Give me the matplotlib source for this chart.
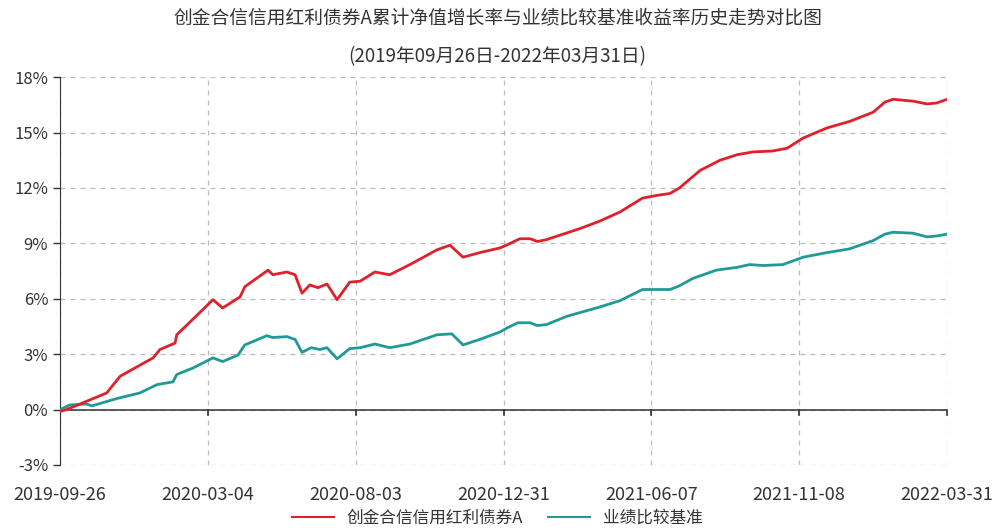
import matplotlib
matplotlib.use('Agg')
import matplotlib.pyplot as plt
from matplotlib.ticker import FuncFormatter

plt.rcParams['font.family'] = ['Noto Sans CJK SC', 'DejaVu Sans']

# ------------------------------------------------------------------
# Daten (x = Handelstag-Index 0..600, y in %)
# ------------------------------------------------------------------
fonds_x = [0, 4.5, 18, 31.6, 40.6, 54, 63, 67.6, 77.8, 79, 90, 103.5, 110, 121.8, 125,
           140.7, 144, 153.5, 159, 163.7, 169, 174.5, 180.6, 187.4, 196, 203, 213, 223,
           236.7, 255, 263.8, 272.6, 284, 297.6, 302, 311, 318, 323, 329, 351.7, 365,
           378.8, 394, 404, 412.6, 419, 433, 446.4, 458, 468.7, 482, 491.8, 502.6, 518.8,
           534, 550, 558, 563.5, 577, 586.5, 593, 600]
fonds_y = [-0.1, 0.0, 0.45, 0.9, 1.8, 2.4, 2.8, 3.25, 3.6, 4.05, 4.9, 5.95, 5.5, 6.1, 6.65,
           7.55, 7.3, 7.45, 7.3, 6.3, 6.75, 6.6, 6.8, 5.95, 6.9, 6.95, 7.45, 7.3,
           7.85, 8.65, 8.9, 8.25, 8.5, 8.75, 8.9, 9.25, 9.25, 9.1, 9.2, 9.8, 10.2,
           10.7, 11.45, 11.6, 11.7, 12.0, 12.95, 13.5, 13.8, 13.95, 14.0, 14.15, 14.7, 15.25,
           15.6, 16.1, 16.65, 16.8, 16.7, 16.55, 16.6, 16.8]

basis_x = [0, 6.7, 18, 21.6, 38.6, 54, 65.6, 76.4, 79, 90, 103.5, 110, 120.4, 125, 139.9,
           144, 153.5, 159, 163.7, 170, 175.8, 180.6, 187.4, 196, 203, 213, 223, 236.7,
           255, 265, 272.6, 284, 297.6, 302, 309.6, 318, 322.7, 329, 342.8, 365, 378.8,
           394, 404, 412.6, 419, 428, 444, 458, 466.5, 475.5, 489, 502.6, 518.8, 534, 550,
           558, 563.5, 577, 586.5, 593, 600]
basis_y = [0.0, 0.25, 0.3, 0.2, 0.6, 0.9, 1.35, 1.5, 1.9, 2.25, 2.8, 2.6, 2.95, 3.5, 4.0,
           3.9, 3.95, 3.8, 3.1, 3.35, 3.25, 3.35, 2.75, 3.3, 3.35, 3.55, 3.35, 3.55,
           4.05, 4.1, 3.5, 3.8, 4.2, 4.4, 4.7, 4.7, 4.55, 4.6, 5.05, 5.55, 5.9,
           6.5, 6.5, 6.5, 6.7, 7.1, 7.55, 7.7, 7.85, 7.8, 7.85, 8.25, 8.5, 8.7, 9.15,
           9.5, 9.6, 9.55, 9.35, 9.4, 9.5]

x_ticks = [0, 100, 200, 300, 400, 500, 600]
x_labels = ['2019-09-26', '2020-03-04', '2020-08-03', '2020-12-31',
            '2021-06-07', '2021-11-08', '2022-03-31']
y_ticks = [-3, 0, 3, 6, 9, 12, 15, 18]

fonds_name = '创金合信信用红利债券A'
basis_name = '业绩比较基准'
titel = '创金合信信用红利债券A累计净值增长率与业绩比较基准收益率历史走势对比图'
untertitel = '(2019年09月26日-2022年03月31日)'

# ------------------------------------------------------------------
# Plot
# ------------------------------------------------------------------
fig = plt.figure(figsize=(9.95, 5.32), dpi=100)
ax = fig.add_axes([0.0603, 0.126, 0.8915, 0.729])
ax.set_axisbelow(True)

ax.plot(fonds_x, fonds_y, color='#e0202a', linewidth=2, label=fonds_name, zorder=4)
ax.plot(basis_x, basis_y, color='#1f9a94', linewidth=2, label=basis_name, zorder=3)

ax.set_xlim(0, 600)
ax.set_ylim(-3, 18)
ax.set_xticks(x_ticks)
ax.set_xticklabels(x_labels, fontsize=13, color='#333333')
ax.set_yticks(y_ticks)
ax.yaxis.set_major_formatter(FuncFormatter(lambda v, p: f'{v:.0f}%'))
ax.tick_params(axis='y', labelsize=12, colors='#333333', length=5, width=1)
ax.tick_params(axis='x', length=0, pad=15)

ax.grid(True, linestyle=(0, (4, 4)), color='#bbbbbb', linewidth=0.9, zorder=0)
for s in ['top', 'right', 'bottom']:
    ax.spines[s].set_visible(False)
ax.spines['left'].set_color('#333333')
ax.axhline(0, color='#333333', linewidth=1.1, zorder=2)
for xt in x_ticks[1:]:
    ax.plot([xt, xt], [0, -0.3], color='#333333', linewidth=1.2, clip_on=False, zorder=2)

fig.text(0.5, 0.965, titel, ha='center', va='center', fontsize=13.5, color='#333333')
fig.text(0.5, 0.893, untertitel, ha='center', va='center', fontsize=13.5, color='#333333')

leg = fig.legend(loc='center', bbox_to_anchor=(0.5, 0.026), ncol=2, frameon=False,
                 fontsize=12, handlelength=2.5, columnspacing=1.5, labelcolor='#333333',
                 borderpad=0.1)
for line in leg.get_lines():
    line.set_linewidth(1.5)

fig.savefig('out.png', dpi=100)
